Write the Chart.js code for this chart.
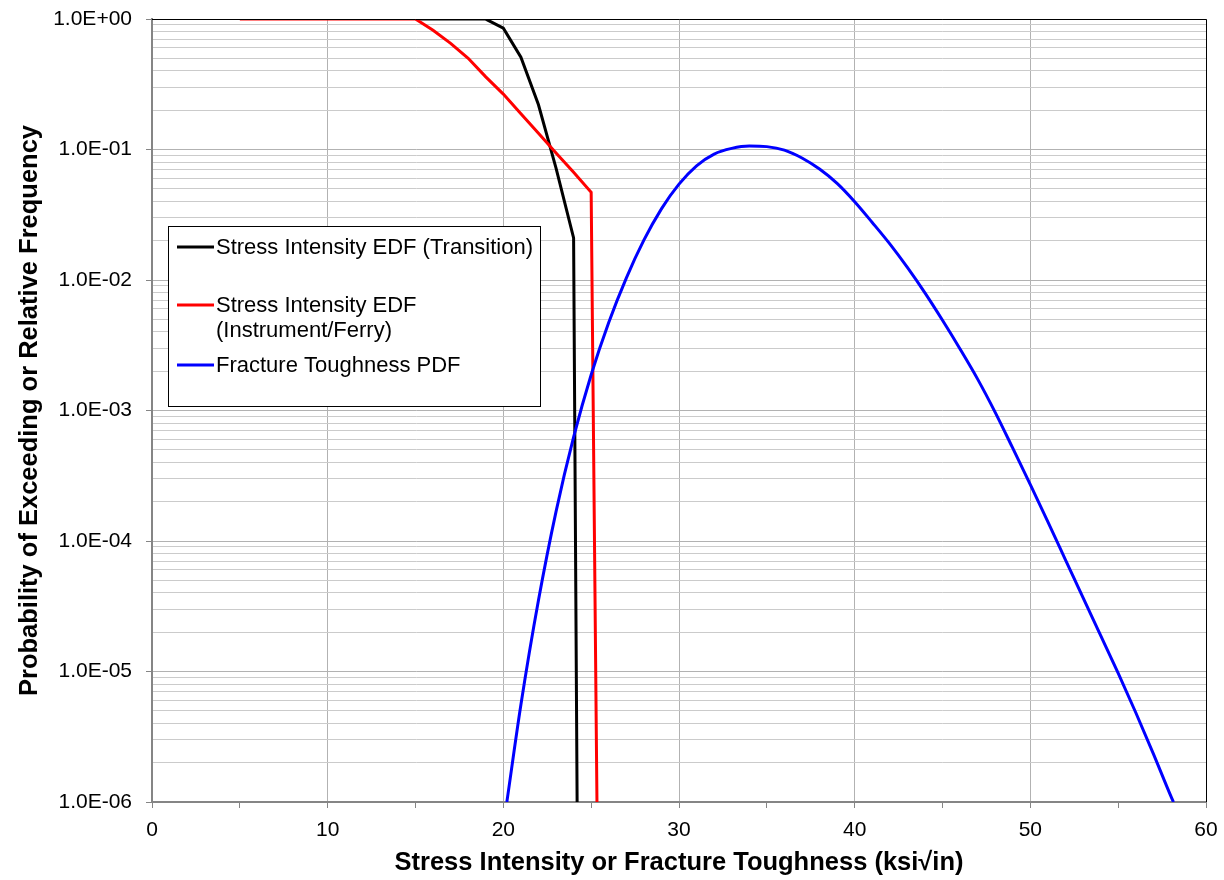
<!DOCTYPE html>
<html>
<head>
<meta charset="utf-8">
<script src="https://cdn.jsdelivr.net/npm/chart.js@4.4.1/dist/chart.umd.min.js"></script>
<style>
  html, body { margin: 0; padding: 0; background: #fff; }
  #wrap { width: 1224px; height: 880px; }
</style>
</head>
<body>
<div id="wrap"><canvas id="chart" width="1224" height="880"></canvas></div>
<script>
// series
const transitionK = [15, 19, 20, 21, 22, 23, 24, 24.2];
const transitionP = [1, 0.999, 0.85, 0.51, 0.22, 0.072, 0.021, 1e-6];

const ferryK = [5, 15, 16, 17, 18, 19, 20, 21, 22, 23, 24, 25, 25.33];
const ferryP = [1, 1, 0.82, 0.65, 0.5, 0.36, 0.266, 0.188, 0.133, 0.094, 0.067, 0.047, 1e-6];

const toughK = [20.2, 21, 22, 23, 24, 25, 26, 27, 28, 29, 30, 31, 32, 33, 34, 35, 36, 37, 38, 39,
  40, 41, 42, 43, 44, 45, 46, 47, 48, 49, 50, 51, 52, 53, 54, 55, 56, 57, 58, 58.15];
const toughP = [1e-6, 5.56e-6, 3.51e-5, 1.68e-4, 6.24e-4, 1.88e-3, 4.73e-3, 0.01035, 0.0202, 0.0351,
  0.0543, 0.075, 0.0923, 0.102, 0.1064, 0.1052, 0.0989, 0.0861, 0.0708, 0.055,
  0.0398, 0.0276, 0.0189, 0.01247, 0.00796, 0.00491, 0.00296, 0.00174, 0.000968, 0.000514,
  0.00027, 0.00014, 7.18e-5, 3.68e-5, 1.89e-5, 9.7e-6, 4.85e-6, 2.35e-6, 1.11e-6, 1e-6];

const seriesNames = [
  ["Stress Intensity EDF (Transition)"],
  ["Stress Intensity EDF", "(Instrument/Ferry)"],
  ["Fracture Toughness PDF"],
];

const xTickValues = [0, 10, 20, 30, 40, 50, 60];
const xTickLabels = ["0", "10", "20", "30", "40", "50", "60"];
const yTickValues = [1, 1e-1, 1e-2, 1e-3, 1e-4, 1e-5, 1e-6];
const yTickLabels = ["1.0E+00", "1.0E-01", "1.0E-02", "1.0E-03", "1.0E-04", "1.0E-05", "1.0E-06"];

function toPoints(xs, ys) {
  return xs.map((x, i) => ({ x, y: ys[i] }));
}

const FONT = "'Liberation Sans', Arial, sans-serif";
const majorGrid = "#b2b2b2";
const minorGrid = "#cbcbcb";
const axisGray = "#858585";

const yLabelMap = new Map(yTickValues.map((v, i) => [v, yTickLabels[i]]));
const xLabelMap = new Map(xTickValues.map((v, i) => [v, xTickLabels[i]]));

function noScalePadding(s) {
  s.paddingTop = 0;
  s.paddingBottom = 0;
  s.paddingLeft = 0;
  s.paddingRight = 0;
}

const legendBox = {
  id: "legendBox",
  afterDatasetsDraw(chart) {
    const ctx = chart.ctx;
    const box = { x: 168.5, y: 226.5, w: 372, h: 180 };
    const itemY = [247, 305, 365];
    ctx.save();
    ctx.fillStyle = "#fff";
    ctx.fillRect(box.x, box.y, box.w, box.h);
    ctx.strokeStyle = "#000";
    ctx.lineWidth = 1;
    ctx.strokeRect(box.x, box.y, box.w, box.h);
    ctx.font = "22px " + FONT;
    ctx.textBaseline = "middle";
    ctx.fillStyle = "#000";
    chart.data.datasets.forEach((ds, i) => {
      const y = itemY[i];
      ctx.strokeStyle = ds.borderColor;
      ctx.lineWidth = 3;
      ctx.beginPath();
      ctx.moveTo(177, y);
      ctx.lineTo(214, y);
      ctx.stroke();
      ds.legendLines.forEach((t, j) => ctx.fillText(t, 216, y + 1 + j * 25));
    });
    // black frame on top and right
    const a = chart.chartArea;
    ctx.strokeStyle = "#000";
    ctx.lineWidth = 1;
    ctx.beginPath();
    ctx.moveTo(a.left, a.top + 0.5);
    ctx.lineTo(a.right + 0.5, a.top + 0.5);
    ctx.lineTo(a.right + 0.5, a.bottom);
    ctx.stroke();
    ctx.restore();
  },
};

new Chart(document.getElementById("chart"), {
  type: "line",
  data: {
    datasets: [
      {
        label: seriesNames[0].join(" "),
        legendLines: seriesNames[0],
        data: toPoints(transitionK, transitionP),
        borderColor: "#000000",
        borderWidth: 3,
        tension: 0,
        order: 3,
      },
      {
        label: seriesNames[1].join(" "),
        legendLines: seriesNames[1],
        data: toPoints(ferryK, ferryP),
        borderColor: "#ff0000",
        borderWidth: 3,
        tension: 0,
        order: 2,
      },
      {
        label: seriesNames[2].join(" "),
        legendLines: seriesNames[2],
        data: toPoints(toughK, toughP),
        borderColor: "#0000ff",
        borderWidth: 3,
        cubicInterpolationMode: "monotone",
        order: 1,
      },
    ],
  },
  options: {
    responsive: false,
    animation: false,
    layout: { padding: { left: 0, top: 19, right: 18, bottom: 0 } },
    elements: { point: { radius: 0 } },
    plugins: { legend: { display: false }, tooltip: { enabled: false } },
    scales: {
      x: {
        type: "linear",
        min: 0,
        max: 60,
        afterBuildTicks: (s) => {
          const t = [];
          for (let v = 0; v <= 60; v += 5) t.push({ value: v });
          s.ticks = t;
        },
        afterFit: (s) => { s.height = 78; noScalePadding(s); },
        ticks: {
          autoSkip: false,
          maxRotation: 0,
          padding: 10,
          color: "#000",
          font: { family: FONT, size: 21 },
          callback: (v) => xLabelMap.get(v) ?? "",
        },
        grid: {
          color: (c) => (c.tick && c.tick.value % 10 === 0 ? majorGrid : "rgba(0,0,0,0)"),
          tickColor: axisGray,
          tickLength: 6,
          lineWidth: 1,
        },
        border: { color: axisGray, width: 2 },
        title: {
          display: true,
          text: "Stress Intensity or Fracture Toughness (ksi√in)",
          color: "#000",
          font: { family: FONT, size: 25.5, weight: "bold" },
          padding: { top: 0, bottom: 2 },
        },
      },
      y: {
        type: "logarithmic",
        min: 1e-6,
        max: 1,
        afterBuildTicks: (s) => {
          const t = [];
          yTickValues.forEach((d) => {
            t.push({ value: d });
            if (d < 1) for (let m = 2; m <= 9; m++) t.push({ value: m * d });
          });
          s.ticks = t.sort((a, b) => a.value - b.value);
        },
        afterFit: (s) => { s.width = 152; noScalePadding(s); },
        ticks: {
          autoSkip: false,
          padding: 14,
          color: "#000",
          font: { family: FONT, size: 21 },
          callback: (v) => yLabelMap.get(v) ?? "",
        },
        grid: {
          color: (c) => (c.tick && yLabelMap.has(c.tick.value) ? majorGrid : minorGrid),
          tickColor: (c) => (c.tick && yLabelMap.has(c.tick.value) ? axisGray : "rgba(0,0,0,0)"),
          tickLength: 6,
          lineWidth: 1,
        },
        border: { color: axisGray, width: 2 },
        title: {
          display: true,
          text: "Probability of Exceeding or Relative Frequency",
          color: "#000",
          font: { family: FONT, size: 25.5, weight: "bold" },
          padding: { top: 15, bottom: 0 },
        },
      },
    },
  },
  plugins: [legendBox],
});
</script>
</body>
</html>
